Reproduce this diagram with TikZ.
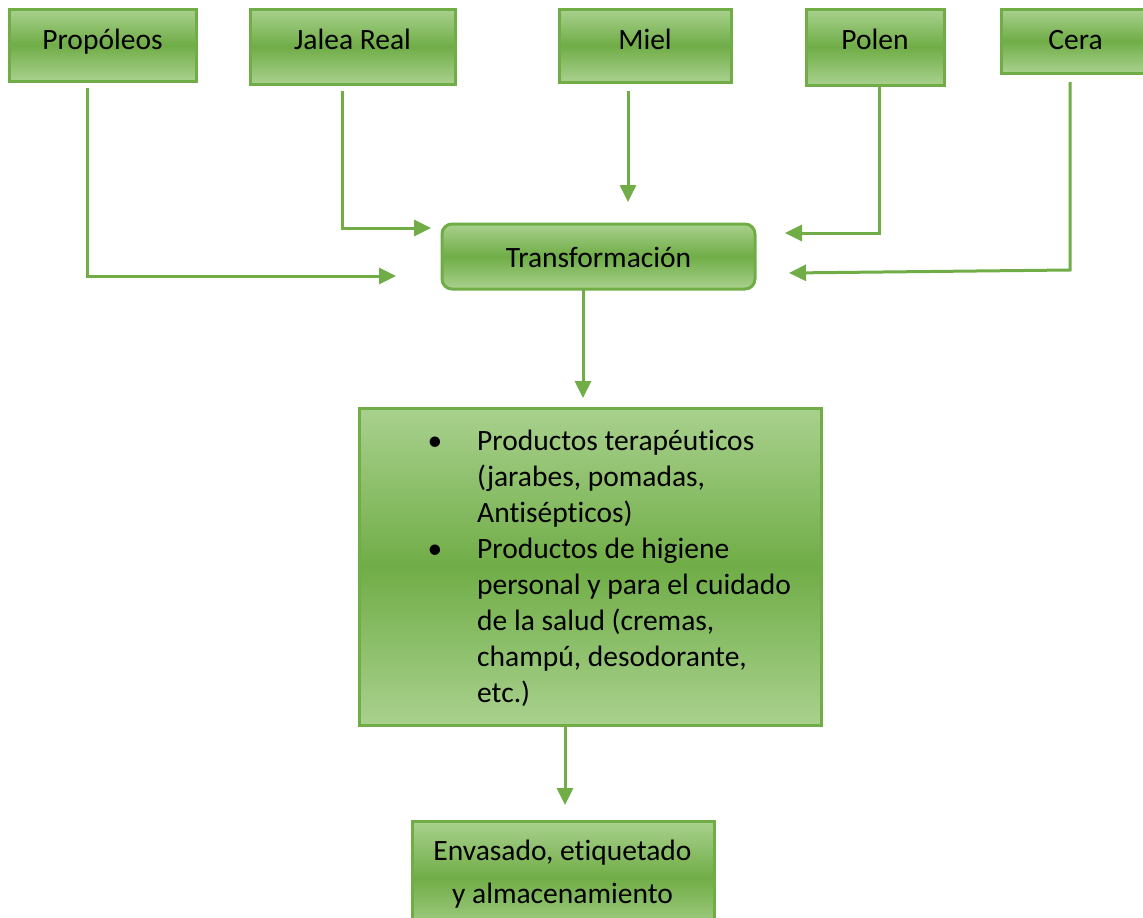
\documentclass[tikz,border=0pt]{standalone}
\usepackage{fontspec}
\setmainfont{Carlito}[Ligatures=NoCommon]
\usetikzlibrary{arrows.meta}
\definecolor{leafdark}{HTML}{70AD47}
\definecolor{leaflight}{HTML}{A9D18E}
\begin{document}
\begin{tikzpicture}[x=1pt,y=-1pt,
  every node/.style={font=\fontsize{29.5}{36}\selectfont, text=black},
  greenbox/.style={draw=leafdark, line width=3pt, top color=leaflight,
    bottom color=leaflight, middle color=leafdark, inner sep=0pt},
  topbox/.style={greenbox, text height=20pt},
  plain/.style={inner sep=0pt},
  flow/.style={draw=leafdark, line width=3pt,
    -{Triangle[length=17pt,width=16pt]}}]
\useasboundingbox (0,0) rectangle (1143,918);
\clip (0,0) rectangle (1143,918);

% raw materials from the hive
\node[topbox, minimum width=187pt, minimum height=72pt, text depth=12pt] (prop) at (102.5,45) {Propóleos};
\node[topbox, minimum width=205pt, minimum height=75pt, text depth=15pt] (jalea) at (352.5,46.5) {Jalea Real};
\node[topbox, minimum width=172pt, minimum height=73pt, text depth=13pt] (miel) at (645,45.5) {Miel};
\node[topbox, minimum width=138pt, minimum height=76pt, text depth=16pt] (polen) at (875,47) {Polen};
\node[topbox, minimum width=149pt, minimum height=64pt, text depth=4pt] (cera) at (1075.5,41) {Cera};

% processing step
\node[greenbox, rounded corners=10pt, minimum width=313pt, minimum height=65pt,
  text height=21pt, text depth=0pt] (trans) at (598.5,256.5) {Transformación};

% resulting products
\node[greenbox, minimum width=462pt, minimum height=317pt] (prod) at (590,566.5) {};
\node[plain, anchor=base] (dotA) at (435,450) {\textbullet};
\node[plain, anchor=base] (dotB) at (435,558) {\textbullet};
\foreach \t [count=\i from 0] in {{Productos terapéuticos}, {(jarabes, pomadas,}, {Antisépticos)},
  {Productos de higiene}, {personal y para el cuidado}, {de la salud (cremas,},
  {champú, desodorante,}, {etc.)}}
  \node[plain, anchor=base west] (item\i) at (477,{450+36*\i}) {\t};

% final step
\node[greenbox, minimum width=302pt, minimum height=114pt] (env) at (563,878) {};
\node[plain, anchor=base] (envA) at (562.5,860) {Envasado, etiquetado};
\node[plain, anchor=base] (envB) at (562.5,903) {y almacenamiento};

% connector end points
\coordinate (propOut) at (87,88);    \coordinate (propIn) at (396,276);
\coordinate (jaleaOut) at (342,91);  \coordinate (jaleaIn) at (431,228);
\coordinate (mielOut) at (628,91);   \coordinate (mielIn) at (628,202);
\coordinate (polenOut) at (879,86);  \coordinate (polenIn) at (785,233);
\coordinate (ceraOut) at (1070,82);  \coordinate (ceraBend) at (1070,270);
\coordinate (ceraIn) at (789,273);
\coordinate (transOut) at (583,290); \coordinate (transIn) at (583,398);
\coordinate (prodOut) at (565,725);  \coordinate (prodIn) at (565,805);

\draw[flow] (propOut) |- (propIn);
\draw[flow] (jaleaOut) |- (jaleaIn);
\draw[flow] (mielOut) -- (mielIn);
\draw[flow] (polenOut) |- (polenIn);
\draw[flow] (ceraOut) -- (ceraBend) -- (ceraIn);
\draw[flow] (transOut) -- (transIn);
\draw[flow] (prodOut) -- (prodIn);
\end{tikzpicture}
\end{document}
